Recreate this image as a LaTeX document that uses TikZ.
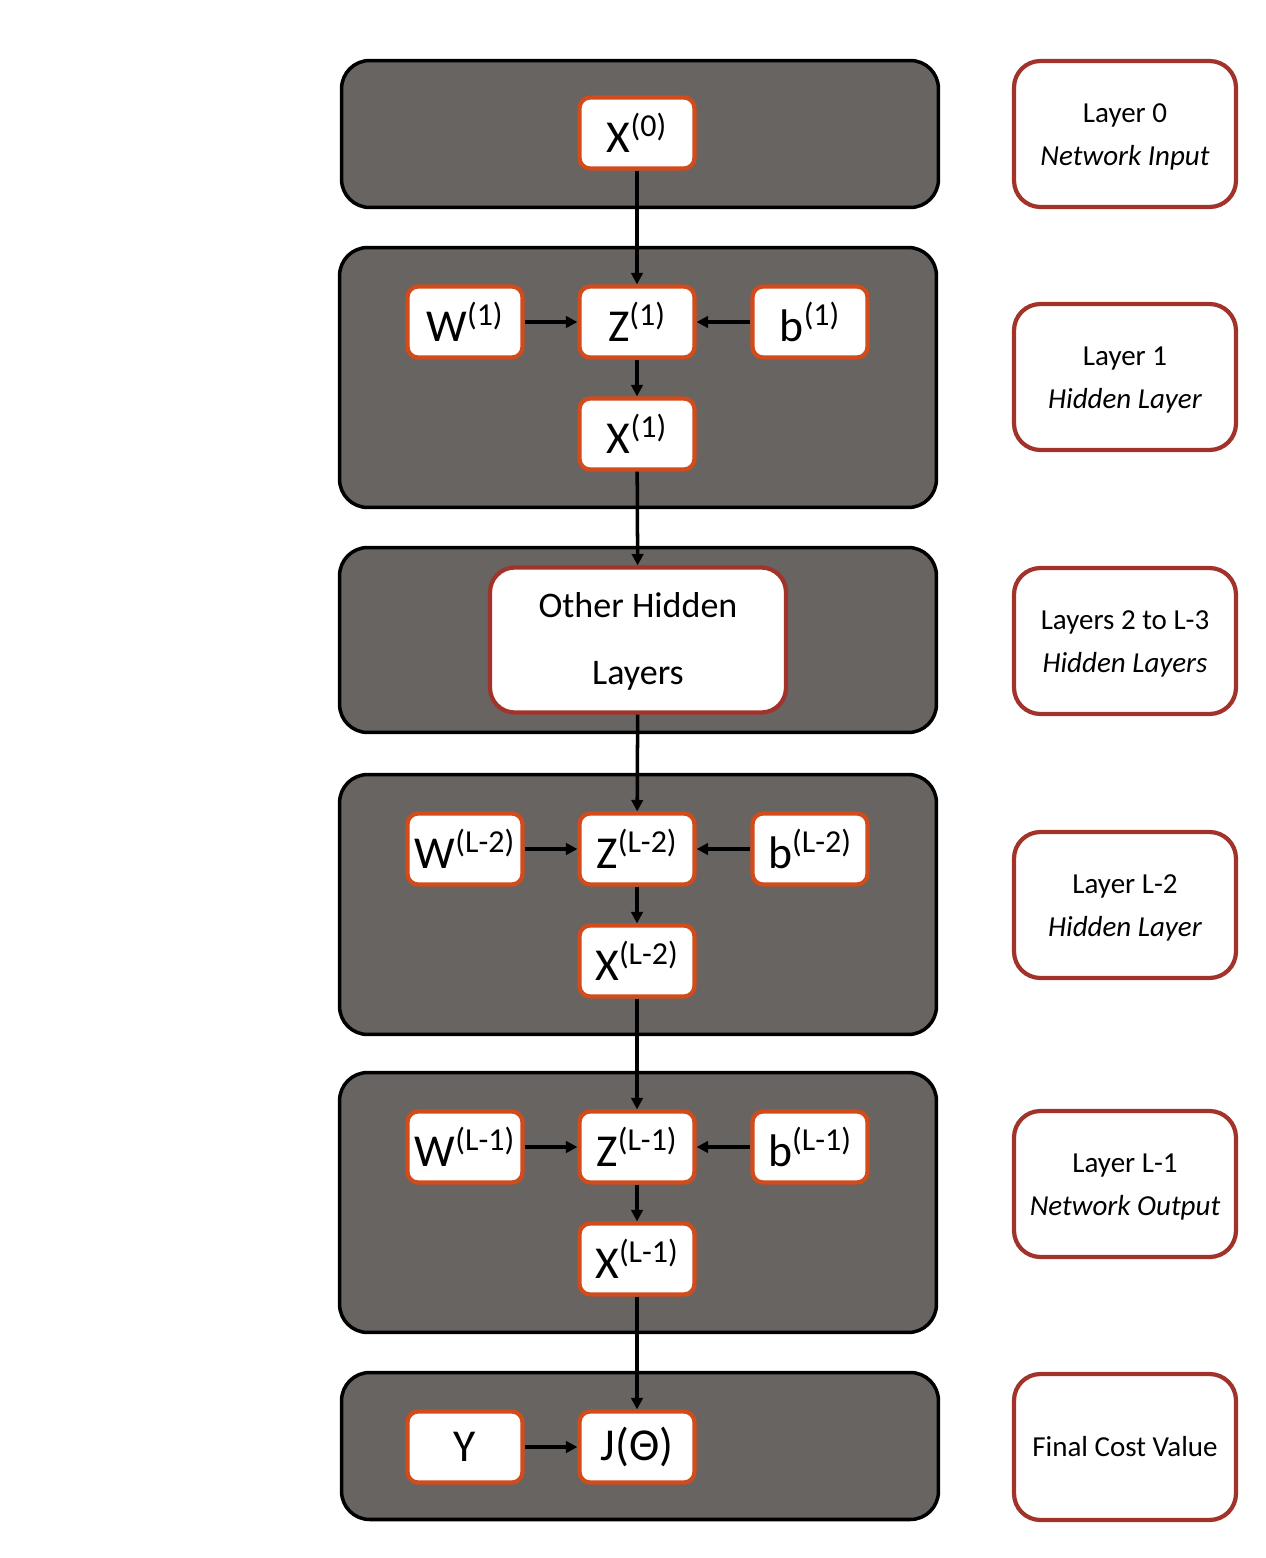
\documentclass[tikz,border=0pt]{standalone}
\usepackage{fontspec}
\setmainfont{Carlito}
\usetikzlibrary{arrows.meta}
\definecolor{panelgray}{HTML}{686462}
\definecolor{varorange}{HTML}{D14B1B}
\definecolor{labelred}{HTML}{A2332A}
\tikzset{layer box/.style={draw=black, line width=2pt, fill=panelgray, rounded corners=16pt, minimum width=11.94cm, inner sep=0pt}}
\tikzset{var box/.style={draw=varorange, line width=2.4pt, fill=white, rounded corners=6pt, minimum width=2.3cm, minimum height=1.42cm, inner sep=0pt, font=\fontsize{26}{30}\selectfont}}
\tikzset{info box/.style={draw=labelred, line width=2.4pt, fill=white, rounded corners=15pt, minimum width=4.44cm, minimum height=2.92cm, inner sep=0pt, align=center, font=\fontsize{16.5}{24.5}\selectfont}}
\tikzset{flow/.style={-{Triangle[length=6.5pt,width=6.5pt]}, line width=2pt}}

\begin{document}
\begin{tikzpicture}[x=0.02cm, y=-0.02cm]
\useasboundingbox (0,0) rectangle (1266,1558);
% grey panels
\node [layer box, minimum height=2.94cm] (p0) at (640,134) {};
\node [layer box, minimum height=5.2cm] (p1) at (638,377.5) {};
\node [layer box, minimum height=3.7cm] (p2) at (638,640) {};
\node [layer box, minimum height=5.2cm] (p3) at (638,904.5) {};
\node [layer box, minimum height=5.2cm] (p4) at (638,1202.5) {};
\node [layer box, minimum height=2.94cm] (p5) at (640,1446) {};
% layer 0
\node [var box] (x0) at (637,133) {X\textsuperscript{(0)}};
% layer 1
\node [var box] (w1) at (465,322) {W\textsuperscript{(1)}};
\node [var box] (z1) at (637,322) {Z\textsuperscript{(1)}};
\node [var box] (b1) at (810,322) {b\textsuperscript{(1)}};
\node [var box] (x1) at (637,434) {X\textsuperscript{(1)}};
% other hidden layers
\node [draw=labelred, line width=2.4pt, fill=white, rounded corners=14pt, minimum width=5.92cm, minimum height=2.9cm, align=center, font=\fontsize{20.5}{38.5}\selectfont] (hid) at (638,640) {\rule{0pt}{16pt}Other Hidden\\Layers};
% layer L-2
\node [var box] (w2) at (465,849) {W\textsuperscript{(L-2)}};
\node [var box] (z2) at (637,849) {Z\textsuperscript{(L-2)}};
\node [var box] (b2) at (810,849) {b\textsuperscript{(L-2)}};
\node [var box] (x2) at (637,961) {X\textsuperscript{(L-2)}};
% layer L-1
\node [var box] (w3) at (465,1147) {W\textsuperscript{(L-1)}};
\node [var box] (z3) at (637,1147) {Z\textsuperscript{(L-1)}};
\node [var box] (b3) at (810,1147) {b\textsuperscript{(L-1)}};
\node [var box] (x3) at (637,1259) {X\textsuperscript{(L-1)}};
% cost
\node [var box] (y) at (465,1447) {Y};
\node [var box] (j) at (637,1447) {J(Θ)};
% arrows
\draw [flow] (x0) -- (z1);
\draw [flow] (w1) -- (z1);
\draw [flow] (b1) -- (z1);
\draw [flow] (z1) -- (x1);
\draw [flow] (x1) -- (hid);
\draw [flow] (hid) -- (z2);
\draw [flow] (w2) -- (z2);
\draw [flow] (b2) -- (z2);
\draw [flow] (z2) -- (x2);
\draw [flow] (x2) -- (z3);
\draw [flow] (w3) -- (z3);
\draw [flow] (b3) -- (z3);
\draw [flow] (z3) -- (x3);
\draw [flow] (x3) -- (j);
\draw [flow] (y) -- (j);
% labels on the right
\node [info box] (l0) at (1125,134) {\rule{0pt}{14pt}Layer 0\\\textit{Network Input}};
\node [info box] (l1) at (1125,377) {\rule{0pt}{14pt}Layer 1\\\textit{Hidden Layer}};
\node [info box] (l2) at (1125,641) {\rule{0pt}{14pt}Layers 2 to L-3\\\textit{Hidden Layers}};
\node [info box] (l3) at (1125,905) {\rule{0pt}{14pt}Layer L-2\\\textit{Hidden Layer}};
\node [info box] (l4) at (1125,1184) {\rule{0pt}{14pt}Layer L-1\\\textit{Network Output}};
\node [info box] (l5) at (1125,1447) {Final Cost Value};
\end{tikzpicture}
\end{document}
